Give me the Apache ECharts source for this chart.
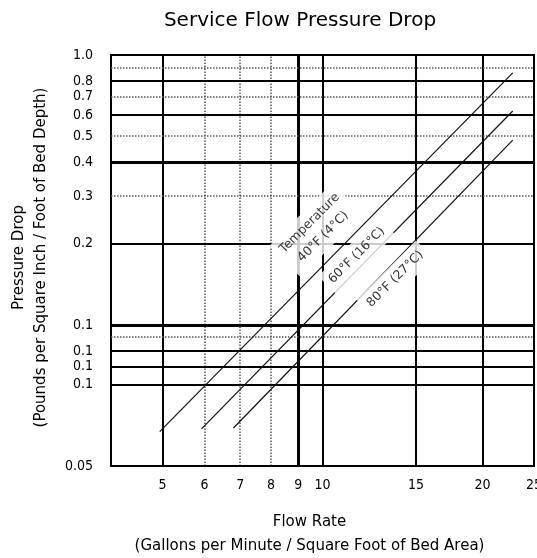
<!DOCTYPE html>
<html>
<head>
<meta charset="utf-8">
<title>Service Flow Pressure Drop</title>
<script src="https://cdn.jsdelivr.net/npm/echarts@6/dist/echarts.min.js"></script>
<style>
  html, body { margin: 0; padding: 0; background: #fff; }
  #chart_drop { width: 537px; height: 558px; }
</style>
</head>
<body>
<div id="chart_drop"></div>
<script>
// flow rate axis (gpm / sq ft of bed area)
const xTickValues = [5, 6, 7, 8, 9, 10, 15, 20, 25];
const xTickLabels = ['5', '6', '7', '8', '9', '10', '15', '20', '25'];

// pressure drop axis (psi / ft of bed depth) - labels as printed on the sheet
const yTickValues = [1.0, 0.9, 0.8, 0.7, 0.6, 0.5, 0.4, 0.3, 0.2, 0.1, 0.09, 0.08, 0.07, 0.06, 0.03];
const yTickLabels = ['1.0', '', '0.8', '0.7', '0.6', '0.5', '0.4', '0.3', '0.2', '0.1', '', '0.1', '0.1', '0.1', '0.05'];

// one line per water temperature
const flow40 = [4.94, 22.8];
const drop40 = [0.0402, 0.858];
const flow60 = [5.92, 22.8];
const drop60 = [0.0412, 0.620];
const flow80 = [6.80, 22.8];
const drop80 = [0.0415, 0.484];

const tempLabels = ['Temperature\n40°F (4°C)', '60°F (16°C)', '80°F (27°C)'];
const tempLabelFlow = [9.74, 11.6, 13.7];
const tempLabelDrop = [0.2248, 0.181, 0.148];

// grid line look, one per tick
const xGridKind = ['solid', 'dotted', 'dotted', 'dotted', 'thick', 'solid', 'solid', 'solid', 'solid'];
const yGridKind = ['solid', 'dotted', 'solid', 'dotted', 'solid', 'dotted', 'thick', 'dotted', 'solid',
                   'thick', 'dotted', 'solid', 'solid', 'solid', 'solid'];

const lineKinds = {
    solid: { color: '#000', width: 2, type: 'solid' },
    thick: { color: '#000', width: 3, type: 'solid' },
    dotted: { color: '#555', width: 1.5, type: 'dotted' }
};

const labelFont = "'Liberation Sans Narrow', 'DejaVu Sans Condensed', 'Liberation Sans', sans-serif";
const textFont = "'DejaVu Sans', sans-serif";

function pairs(xs, ys) {
    return xs.map((x, i) => [x, ys[i]]);
}

function tempSeries(name, xs, ys, extra) {
    return Object.assign({
        name: name,
        type: 'line',
        symbol: 'none',
        z: 3,
        silent: true,
        animation: false,
        lineStyle: { color: '#111', width: 1.2 },
        data: pairs(xs, ys)
    }, extra || {});
}

const gridMarks = [];
xTickValues.forEach((v, i) => {
    gridMarks.push({
        xAxis: v,
        lineStyle: lineKinds[xGridKind[i]],
        label: { formatter: xTickLabels[i], position: 'start', distance: 12 }
    });
});
yTickValues.forEach((v, i) => {
    gridMarks.push({
        yAxis: v,
        lineStyle: lineKinds[yGridKind[i]],
        label: { show: yTickLabels[i] !== '', formatter: yTickLabels[i], position: 'start', distance: 18 }
    });
});

function getOption() {
    return {
        backgroundColor: '#fff',
        animation: false,
        title: {
            text: 'Service Flow Pressure Drop',
            left: 295,
            textAlign: 'center',
            top: 6,
            textStyle: { fontFamily: textFont, fontSize: 20, fontWeight: 'normal', color: '#000' }
        },
        grid: {
            left: 111,
            top: 55,
            width: 423,
            height: 411,
            show: true,
            borderColor: '#000',
            borderWidth: 2,
            containLabel: false,
            outerBoundsMode: 'none'
        },
        xAxis: {
            type: 'log',
            logBase: 10,
            min: 4,
            max: 25,
            name: 'Flow Rate\n(Gallons per Minute / Square Foot of Bed Area)',
            nameLocation: 'middle',
            nameGap: 44,
            nameTextStyle: { fontFamily: textFont, fontSize: 15, color: '#000', lineHeight: 24, padding: [0, 26, 0, 0] },
            axisLine: { show: false },
            axisTick: { show: false },
            axisLabel: { show: false },
            splitLine: { show: false }
        },
        yAxis: {
            type: 'log',
            logBase: 10,
            min: 0.03,
            max: 1,
            name: 'Pressure Drop\n(Pounds per Square Inch / Foot of Bed Depth)',
            nameLocation: 'middle',
            nameRotate: 90,
            nameGap: 59,
            nameTextStyle: { fontFamily: textFont, fontSize: 15, color: '#000', lineHeight: 22, padding: [0, 0, 0, 6] },
            axisLine: { show: false },
            axisTick: { show: false },
            axisLabel: { show: false },
            splitLine: { show: false }
        },
        series: [
            tempSeries('40°F (4°C)', flow40, drop40, {
                markLine: {
                    silent: true,
                    symbol: 'none',
                    z: 1,
                    animation: false,
                    label: { color: '#000', fontFamily: labelFont, fontSize: 14 },
                    data: gridMarks
                }
            }),
            tempSeries('60°F (16°C)', flow60, drop60),
            tempSeries('80°F (27°C)', flow80, drop80),
            {
                name: 'labels',
                type: 'scatter',
                symbolSize: 0,
                z: 10,
                silent: true,
                animation: false,
                data: tempLabelFlow.map((x, i) => ({ value: [x, tempLabelDrop[i]], name: tempLabels[i] })),
                label: {
                    show: true,
                    position: 'inside',
                    formatter: p => p.name,
                    rotate: 45,
                    color: '#000',
                    fontFamily: textFont,
                    fontSize: 12.5,
                    lineHeight: 19,
                    align: 'center',
                    verticalAlign: 'middle',
                    backgroundColor: '#fff',
                    padding: [3, 5]
                }
            }
        ]
    };
}

const chart = echarts.init(document.getElementById('chart_drop'), null, { renderer: 'canvas' });
chart.setOption(getOption());
window.addEventListener('resize', () => chart.resize());
</script>
</body>
</html>
